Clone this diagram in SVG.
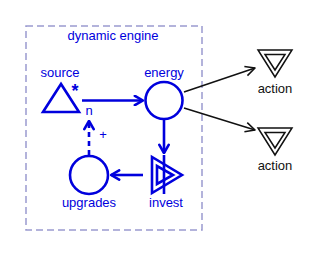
<svg xmlns="http://www.w3.org/2000/svg" width="320" height="259" viewBox="0 0 320 259">
<defs>
<style>
text{font-family:"Liberation Sans",Arial,sans-serif;font-size:13px;text-anchor:middle}
.b{fill:#0000dd}
.k{fill:#111}
.bs{fill:none;stroke:#0000dd;stroke-width:2.6}
.ks{fill:none;stroke:#111;stroke-width:1.5}
.frame{fill:none;stroke:#9a9ad0;stroke-width:1.5;stroke-dasharray:7,4}
</style>
<marker id="ab" viewBox="0 0 10 10" refX="9" refY="5" markerWidth="4.5" markerHeight="4.5" orient="auto" markerUnits="strokeWidth">
<path d="M2,1 L9,5 L2,9" fill="none" stroke="#0000dd" stroke-width="2.2" stroke-linecap="round" stroke-linejoin="round"/>
</marker>
<marker id="ak" viewBox="0 0 10 10" refX="9" refY="5" markerWidth="8" markerHeight="8" orient="auto" markerUnits="strokeWidth">
<path d="M1,1 L9,5 L1,9" fill="none" stroke="#111" stroke-width="1.3" stroke-linejoin="round"/>
</marker>
</defs>
<rect width="320" height="259" fill="#fff"/>
<g id="engine">
<rect class="frame" x="26" y="26" width="176" height="204"/>
<text class="b" x="113" y="40">dynamic engine</text>
</g>
<g id="connectors">
<line class="bs" x1="82" y1="100.5" x2="143" y2="100.5" marker-end="url(#ab)"/>
<line class="bs" x1="164" y1="120" x2="164" y2="153" marker-end="url(#ab)"/>
<line class="bs" x1="143" y1="175" x2="111" y2="175" marker-end="url(#ab)"/>
<line class="bs" x1="89" y1="155" x2="89" y2="121" stroke-dasharray="5,4" marker-end="url(#ab)"/>
<text class="b" x="89" y="115">n</text>
<text class="b" x="103" y="139">+</text>
<line class="ks" x1="184" y1="92" x2="255" y2="68" marker-end="url(#ak)"/>
<line class="ks" x1="184" y1="108" x2="255" y2="130" marker-end="url(#ak)"/>
</g>
<g id="source">
<polygon class="bs" points="61,84 43,112 79,112"/>
<text class="b" x="75" y="97" style="font-size:18px;font-weight:bold">*</text>
<text class="b" x="60" y="77">source</text>
</g>
<g id="energy">
<circle class="bs" cx="164" cy="100.5" r="18.5"/>
<text class="b" x="164" y="77">energy</text>
</g>
<g id="invest">
<polygon class="bs" points="152,157 152,193 182,175"/>
<polygon class="bs" points="157,166 157,184 173,175"/>
<line class="bs" x1="164" y1="155" x2="164" y2="194"/>
<text class="b" x="166" y="207">invest</text>
</g>
<g id="upgrades">
<circle class="bs" cx="89" cy="175" r="19"/>
<text class="b" x="89" y="207">upgrades</text>
</g>
<g id="action1">
<polygon class="ks" points="258,50 292,50 275,77"/>
<polygon class="ks" points="265,54.5 285,54.5 275,70"/>
<text class="k" x="275" y="93">action</text>
</g>
<g id="action2">
<polygon class="ks" points="258,128 292,128 275,155"/>
<polygon class="ks" points="265,132.5 285,132.5 275,148"/>
<text class="k" x="275" y="170">action</text>
</g>
</svg>
